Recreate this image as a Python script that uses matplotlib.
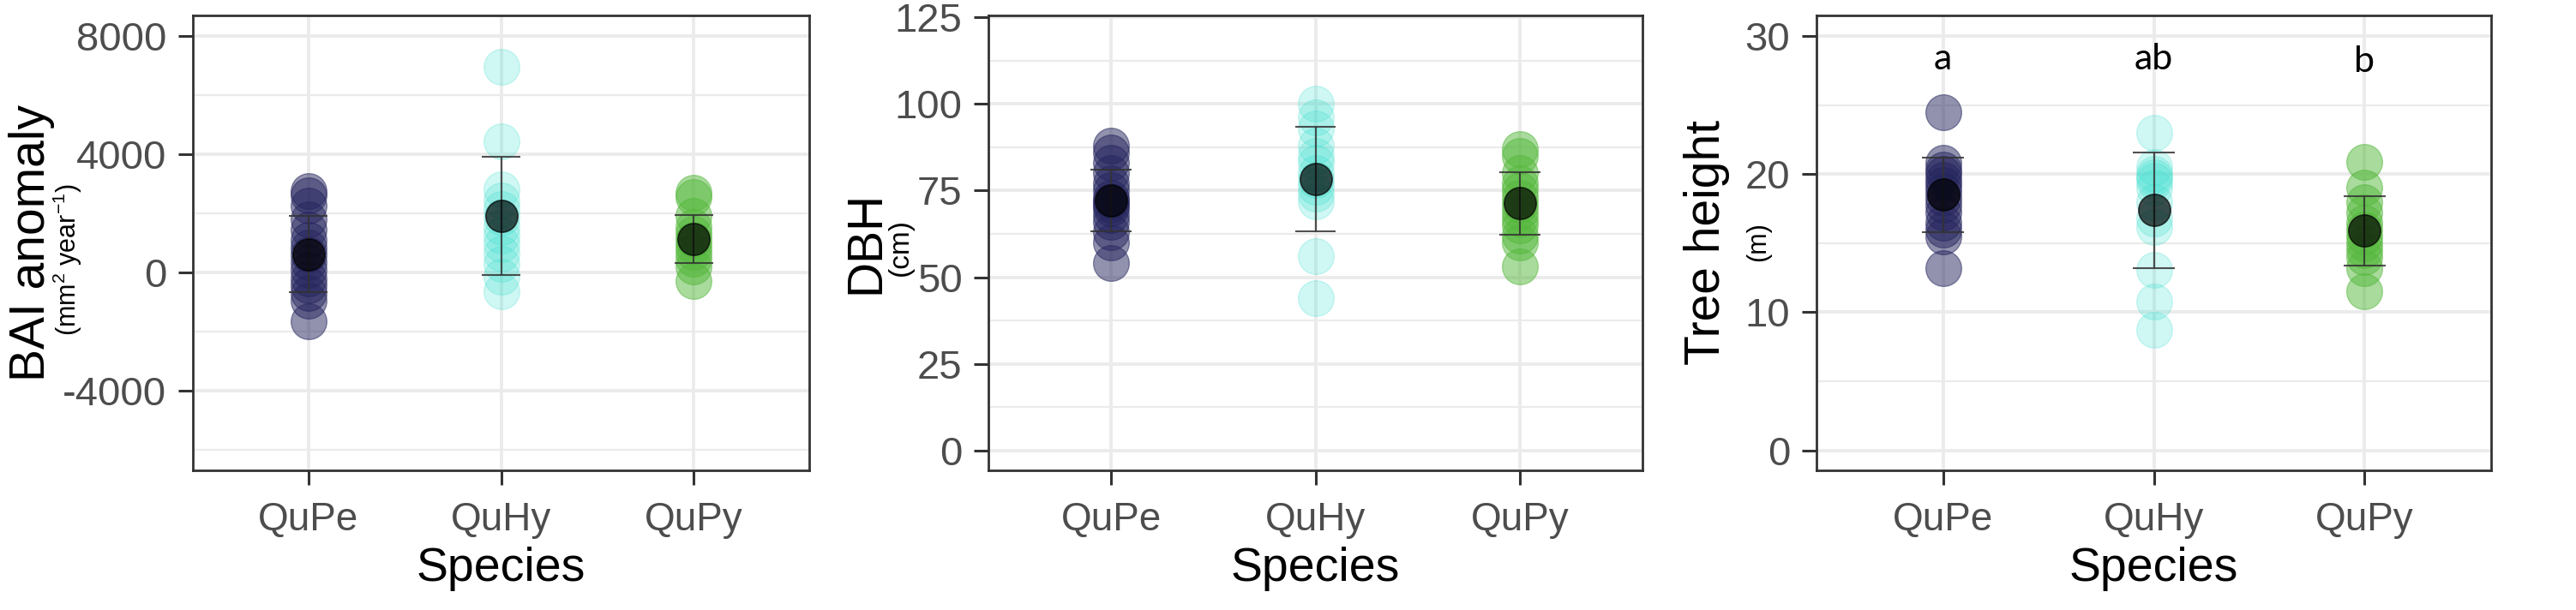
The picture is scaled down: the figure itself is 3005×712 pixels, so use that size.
import numpy as np
import matplotlib
matplotlib.use("Agg")
import matplotlib.pyplot as plt

plt.rcParams["font.family"] = ["Liberation Sans", "DejaVu Sans"]
plt.rcParams["mathtext.fontset"] = "custom"
plt.rcParams["mathtext.rm"] = "Liberation Sans"
plt.rcParams["mathtext.it"] = "Liberation Sans:italic"
plt.rcParams["axes.unicode_minus"] = False

# ----------------------------------------------------------------------
# data
# ----------------------------------------------------------------------
species = ["QuPe", "QuHy", "QuPy"]

bai_qupe = [2750, 2600, 2250, 1800, 1450, 1100, 850, 600, 350, 100, -200, -450, -700, -950, -1650]
bai_quhy = [6950, 4450, 2800, 2450, 2150, 1850, 1550, 1250, 950, 650, 300, -150, -650]
bai_qupy = [2700, 2550, 1900, 1550, 1300, 1100, 900, 700, 450, 200, -300]
bai_mean = [610, 1920, 1130]
bai_sd = [1290, 2005, 805]

dbh_qupe = [88, 86, 83, 80, 77, 75, 73, 72, 71, 70, 68, 66, 63, 60, 54]
dbh_quhy = [100, 96, 93, 88, 85, 83, 80, 78, 76, 74, 72, 56, 44]
dbh_qupy = [87, 85, 80, 77, 75, 73, 71, 69, 67, 65, 62, 60, 53]
dbh_mean = [72.1, 78.3, 71.3]
dbh_sd = [8.9, 15.1, 9.1]

ht_qupe = [24.5, 20.8, 20.3, 20.0, 19.6, 19.2, 18.8, 18.3, 17.8, 17.2, 16.5, 16.0, 15.5, 13.2]
ht_quhy = [23.0, 20.5, 20.0, 19.8, 19.5, 19.0, 18.0, 16.8, 16.2, 13.1, 10.8, 8.7]
ht_qupy = [20.9, 19.0, 18.0, 17.2, 16.5, 16.0, 15.5, 15.0, 14.5, 14.0, 13.2, 11.5]
ht_mean = [18.5, 17.4, 15.9]
ht_sd = [2.7, 4.2, 2.5]

ht_letters = ["a", "ab", "b"]
ht_letter_y = [27.6, 27.6, 27.4]

colors = ["#26265f", "#40e0d0", "#55b83c"]
alphas = [0.5, 0.25, 0.5]

# ----------------------------------------------------------------------
# layout (pixels of a 3005 x 712 canvas)
# ----------------------------------------------------------------------
W, H = 3005, 712
TOP, BOT = 18, 549
fig = plt.figure(figsize=(W / 100, H / 100), dpi=100)

panels = [
    dict(lr=(225, 944), groups=[bai_qupe, bai_quhy, bai_qupy], mean=bai_mean, sd=bai_sd,
         ylim=(-6700, 8700), major=[-4000, 0, 4000, 8000], minor=[-6000, -2000, 2000, 6000],
         title="BAI anomaly", title_x=52, sub=r"(mm$^{2}$ year$^{-1}$)", sub_x=89, sub_y=303, sub_fs=22),
    dict(lr=(1153, 1916), groups=[dbh_qupe, dbh_quhy, dbh_qupy], mean=dbh_mean, sd=dbh_sd,
         ylim=(-5.67, 125.5), major=[0, 25, 50, 75, 100, 125], minor=[12.5, 37.5, 62.5, 87.5, 112.5],
         title="DBH", title_x=1025, sub="(cm)", sub_x=1059, sub_y=288, sub_fs=24),
    dict(lr=(2119, 2906), groups=[ht_qupe, ht_quhy, ht_qupy], mean=ht_mean, sd=ht_sd,
         ylim=(-1.45, 31.5), major=[0, 10, 20, 30], minor=[5, 15, 25],
         title="Tree height", title_x=2006, sub="(m)", sub_x=2059, sub_y=282, sub_fs=22),
]

xpos = np.arange(1, len(species) + 1)

for k, p in enumerate(panels):
    l, r = p["lr"]
    ax = fig.add_axes([l / W, 1 - BOT / H, (r - l) / W, (BOT - TOP) / H])
    ax.set_xlim(0.4, 3.6)
    ax.set_ylim(*p["ylim"])

    # grid
    for v in p["minor"]:
        ax.axhline(v, color="#ebebeb", lw=1.6, zorder=0)
    for v in p["major"]:
        ax.axhline(v, color="#ebebeb", lw=2.8, zorder=0)
    for x in xpos:
        ax.axvline(x, color="#ebebeb", lw=2.8, zorder=0)

    # raw points
    for i, vals in enumerate(p["groups"]):
        ax.scatter(np.full(len(vals), xpos[i]), vals, s=900, color=colors[i],
                   alpha=alphas[i], edgecolors=colors[i], linewidths=1.0, zorder=2)

    # mean +- sd
    mean = np.array(p["mean"])
    sd = np.array(p["sd"])
    ax.vlines(xpos, mean - sd, mean + sd, color="#333333", lw=1.5, alpha=0.85, zorder=3)
    ax.hlines(np.r_[mean - sd, mean + sd], np.r_[xpos, xpos] - 0.1, np.r_[xpos, xpos] + 0.1,
              color="#333333", lw=1.5, alpha=0.85, zorder=3)
    ax.scatter(xpos, mean, s=720, color="black", alpha=0.68, edgecolors="black",
               linewidths=1.2, zorder=4)

    ax.set_xticks(xpos)
    ax.set_xticklabels(species)
    ax.set_yticks(p["major"])
    ax.tick_params(axis="y", labelsize=34, labelcolor="#4d4d4d", color="#333333",
                   length=12, width=2.2, pad=10)
    ax.tick_params(axis="x", labelsize=33, labelcolor="#4d4d4d", color="#333333",
                   length=12, width=2.2, pad=14)
    for sp in ax.spines.values():
        sp.set_color("#333333")
        sp.set_linewidth(2.0)

    # axis titles
    xc = (l + r) / 2 / W
    fig.text(xc, 1 - 678 / H, "Species", ha="center", va="baseline", fontsize=40)
    fig.text(p["title_x"] / W, 1 - 283 / H, p["title"], rotation=90, rotation_mode="anchor",
             ha="center", va="baseline", fontsize=41)
    fig.text(p["sub_x"] / W, 1 - p["sub_y"] / H, p["sub"], rotation=90, rotation_mode="anchor",
             ha="center", va="baseline", fontsize=p["sub_fs"])

    if k == 2:
        for i, lab in enumerate(ht_letters):
            ax.text(xpos[i], ht_letter_y[i], lab, ha="center", va="baseline",
                    fontsize=31, family="Lato", zorder=5)

fig.savefig("out.png", dpi=100)
